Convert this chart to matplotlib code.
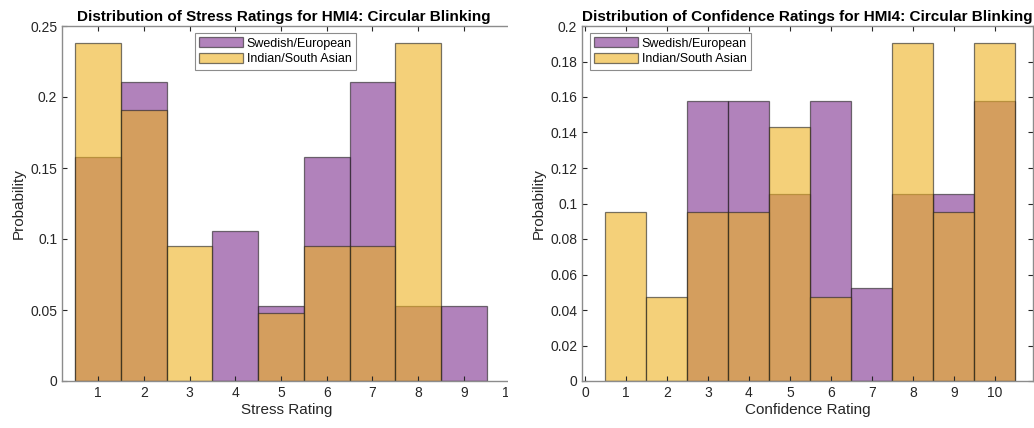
import matplotlib.pyplot as plt
import numpy as np
from matplotlib.ticker import FormatStrFormatter
from matplotlib.transforms import Bbox, TransformedBbox

plt.rcParams['font.family'] = ['Liberation Sans', 'DejaVu Sans']

# Normalised histogram counts (probability per rating)
stress_ratings = np.arange(1, 10)
stress_swedish = [0.1579, 0.2105, 0.0, 0.1053, 0.0526, 0.1579, 0.2105, 0.0526, 0.0526]
stress_indian = [0.2381, 0.1905, 0.0952, 0.0, 0.0476, 0.0952, 0.0952, 0.2381, 0.0]

confidence_ratings = np.arange(1, 11)
confidence_swedish = [0.0, 0.0, 0.1579, 0.1579, 0.1053, 0.1579, 0.0526, 0.1053, 0.1053, 0.1579]
confidence_indian = [0.0952, 0.0476, 0.0952, 0.0952, 0.1429, 0.0476, 0.0, 0.1905, 0.0952, 0.1905]

group_labels = ['Swedish/European', 'Indian/South Asian']
purple = (0.494, 0.184, 0.556)
yellow = (0.929, 0.694, 0.125)
edge = (0.12, 0.12, 0.12)
axis_gray = '#8c8c8c'
text_gray = '#262626'

W, H = 1034, 428
fig = plt.figure(figsize=(W / 100, H / 100), dpi=100)


def px_axes(x0, x1, y_top, y_bot):
    return fig.add_axes([x0 / W, (H - y_bot) / H, (x1 - x0) / W, (y_bot - y_top) / H])


def style_axes(ax, right_spine=True):
    for name, sp in ax.spines.items():
        sp.set_color(axis_gray)
        sp.set_linewidth(1.0)
    ax.spines['right'].set_visible(right_spine)
    ax.tick_params(direction='in', length=3.5, width=0.8, color=text_gray,
                   labelsize=10, labelcolor=text_gray, top=True, right=right_spine)
    ax.yaxis.set_major_formatter(FormatStrFormatter('%g'))


def draw_hist(ax, bins, swe, ind):
    ax.bar(bins, swe, width=1, color=purple, alpha=0.6, edgecolor=edge,
           linewidth=0.9, label=group_labels[0])
    ax.bar(bins, ind, width=1, color=yellow, alpha=0.6, edgecolor=edge,
           linewidth=0.9, label=group_labels[1])


def add_legend(ax, anchor):
    leg = ax.legend(loc='upper left', bbox_to_anchor=anchor,
                    fontsize=9, frameon=True, fancybox=False, framealpha=1,
                    edgecolor=axis_gray, handlelength=3.5, handleheight=0.85,
                    borderpad=0.35, labelspacing=0.25, handletextpad=0.3,
                    borderaxespad=0)
    leg.get_frame().set_linewidth(0.8)
    return leg


# ---- Stress ratings ----
ax1 = px_axes(62, 528, 26, 381)
draw_hist(ax1, stress_ratings, stress_swedish, stress_indian)
ax1.set_xlim(0.212, 10.4)
ax1.set_ylim(0, 0.25)
ax1.set_xticks(np.arange(1, 11))
ax1.set_yticks(np.arange(0, 0.2501, 0.05))
style_axes(ax1, right_spine=False)
ax1.set_title('Distribution of Stress Ratings for HMI4: Circular Blinking',
              fontsize=11, fontweight='bold', x=0.475, pad=3.5)
ax1.set_xlabel('Stress Rating', fontsize=11, color=text_gray)
ax1.xaxis.set_label_coords(0.483, -0.062)
ax1.set_ylabel('Probability', fontsize=11, color=text_gray, labelpad=3)
add_legend(ax1, ((195 - 62) / 466, (381 - 33) / 355))

# the left panel is cut off on the right, just past the 10 tick
cut = TransformedBbox(Bbox.from_extents(0, 0, 508 / W, 1), fig.transFigure)
fig.canvas.draw()
for tick in ax1.xaxis.get_major_ticks():
    for art in (tick.tick1line, tick.tick2line, tick.label1):
        art.set_clip_on(True)
        art.set_clip_box(cut)
for name in ('top', 'bottom'):
    ax1.spines[name].set_clip_on(True)
    ax1.spines[name].set_clip_box(cut)

# ---- Confidence ratings ----
ax2 = px_axes(582, 1033, 26, 381)
draw_hist(ax2, confidence_ratings, confidence_swedish, confidence_indian)
ax2.set_xlim(-0.073, 10.93)
ax2.set_ylim(0, 0.2)
ax2.set_xticks(np.arange(0, 11))
ax2.set_yticks(np.arange(0, 0.2001, 0.02))
style_axes(ax2)
ax2.set_title('Distribution of Confidence Ratings for HMI4: Circular Blinking',
              fontsize=11, fontweight='bold', pad=3.5)
ax2.set_xlabel('Confidence Rating', fontsize=11, color=text_gray)
ax2.xaxis.set_label_coords(0.5, -0.062)
ax2.set_ylabel('Probability', fontsize=11, color=text_gray, labelpad=3)
add_legend(ax2, ((590 - 582) / 451, (381 - 33) / 355))

fig.savefig('out.png', dpi=100)
